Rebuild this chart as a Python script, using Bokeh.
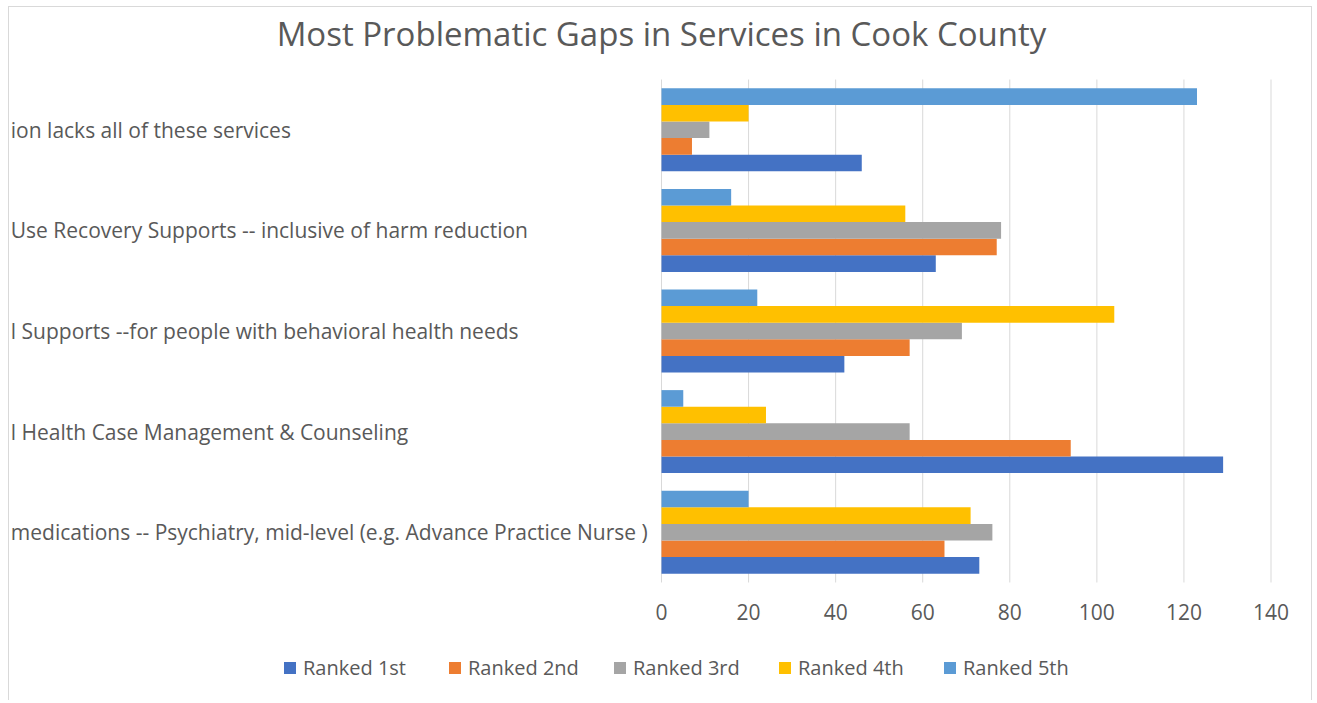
from bokeh.plotting import figure
from bokeh.models import ColumnDataSource, Legend, LegendItem, Range1d
from bokeh.core.properties import value
from bokeh.transform import dodge
from bokeh.embed import file_html
from bokeh.resources import INLINE

# Categories (bottom to top), as visible in the reference (left part is cut off)
categories = [
    "medications -- Psychiatry, mid-level (e.g. Advance Practice Nurse )",
    "l Health Case Management & Counseling",
    "l Supports --for people with behavioral health needs",
    "Use Recovery Supports --  inclusive of harm reduction",
    "ion lacks all of these services",
]
series_names = ["Ranked 1st", "Ranked 2nd", "Ranked 3rd", "Ranked 4th", "Ranked 5th"]
ranked_1st = [73, 129, 42, 63, 46]
ranked_2nd = [65, 94, 57, 77, 7]
ranked_3rd = [76, 57, 69, 78, 11]
ranked_4th = [71, 24, 104, 56, 20]
ranked_5th = [20, 5, 22, 16, 123]
x_ticks = [0, 20, 40, 60, 80, 100, 120, 140]
x_tick_labels = ["0", "20", "40", "60", "80", "100", "120", "140"]
title_text = "Most Problematic Gaps in Services in Cook County"

series_values = [ranked_1st, ranked_2nd, ranked_3rd, ranked_4th, ranked_5th]
colors = ["#4472C4", "#ED7D31", "#A5A5A5", "#FFC000", "#5B9BD5"]
offsets = [-0.33, -0.165, 0.0, 0.165, 0.33]
bar_h = 0.165

FONT = "Open Sans"
GRAY = "#595959"

n_cat = len(categories)
cat_pos = [i + 0.5 for i in range(n_cat)]

# plotting area: value axis 0..140 on the right; category text area lies left of 0,
# the space above holds the title, the space below the value labels and the legend
X_START, X_END = -149.76, 149.76
Y_START, Y_END = -1.183, n_cat + 0.716

p = figure(
    width=1304, height=694,
    x_range=Range1d(X_START, X_END), y_range=Range1d(Y_START, Y_END),
    x_axis_location=None, y_axis_location=None,
    output_backend="svg", toolbar_location=None,
    min_border_left=0, min_border_right=0, min_border_top=0, min_border_bottom=0,
)
p.styles = {"border-left": "1px solid #d9d9d9", "border-top": "1px solid #d9d9d9",
            "border-right": "1px solid #d9d9d9", "margin-left": "8px", "margin-top": "6px"}
p.outline_line_color = None
p.background_fill_color = "white"
p.xgrid.visible = False
p.ygrid.visible = False

# vertical grid lines at the value ticks, spanning the category area
p.segment(x0=x_ticks, x1=x_ticks, y0=[0] * len(x_ticks), y1=[n_cat] * len(x_ticks),
          line_color="#d9d9d9", line_width=1)

# value tick labels
p.text(x=x_ticks, y=[-0.29] * len(x_ticks), text=x_tick_labels, text_align="center",
       text_baseline="middle", text_font=value(FONT), text_font_size="21px", text_color=GRAY)

src = ColumnDataSource(dict(pos=cat_pos, **{n: v for n, v in zip(series_names, series_values)}))

items = []
for name, col, off in zip(series_names, colors, offsets):
    r = p.hbar(y=dodge("pos", off), right=name, left=0, height=bar_h,
               source=src, fill_color=col, line_color=None)
    items.append(LegendItem(label=name, renderers=[r]))

# category labels (left aligned, cut off at the left edge as in the reference)
p.text(x=[X_START + 0.3] * n_cat, y=cat_pos, text=categories, text_align="left",
       text_baseline="middle", text_font=value(FONT), text_font_size="21px", text_color=GRAY)

# title
p.text(x=[0], y=[n_cat + 0.457], text=[title_text], text_align="center", text_baseline="middle",
       text_font=value(FONT), text_font_size="33px", text_color=GRAY)

legend = Legend(items=items, orientation="horizontal", location=(273, 20),
                glyph_width=15, glyph_height=15, label_standoff=6, label_width=135, spacing=9,
                padding=0, margin=0, border_line_color=None, background_fill_alpha=0,
                label_text_font=FONT, label_text_font_size="20px", label_text_color=GRAY)
p.add_layout(legend, "center")

open("out.html", "w").write(file_html(p, INLINE))
